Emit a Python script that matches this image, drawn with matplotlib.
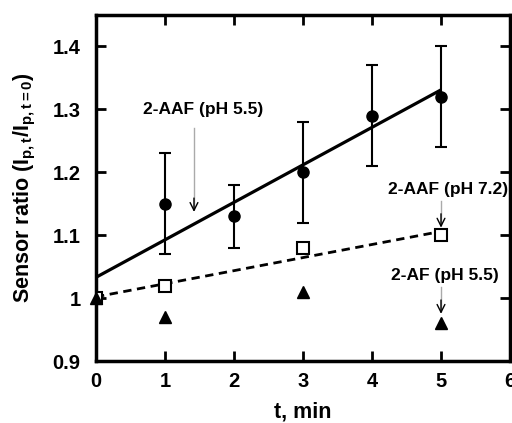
import matplotlib
matplotlib.use("Agg")
import matplotlib.pyplot as plt
import numpy as np

plt.rcParams['font.family'] = ['Liberation Sans', 'DejaVu Sans']
plt.rcParams['font.weight'] = 'bold'
plt.rcParams['mathtext.fontset'] = 'custom'
plt.rcParams['mathtext.rm'] = 'Liberation Sans:bold'
plt.rcParams['mathtext.it'] = 'Liberation Sans:bold'
plt.rcParams['mathtext.bf'] = 'Liberation Sans:bold'

# AAF pH 5.5 (filled circles with error bars)
t_aaf55 = [1, 2, 3, 4, 5]
y_aaf55 = [1.15, 1.13, 1.20, 1.29, 1.32]
err_aaf55 = [0.08, 0.05, 0.08, 0.08, 0.08]
fit_aaf55_t = [0, 5]
fit_aaf55_y = [1.033, 1.331]

# AAF pH 7.2 (open squares)
t_aaf72 = [0, 1, 3, 5]
y_aaf72 = [1.0, 1.02, 1.08, 1.10]
fit_aaf72_t = [0, 5]
fit_aaf72_y = [1.002, 1.106]

# AF pH 5.5 (filled triangles)
t_af55 = [0, 1, 3, 5]
y_af55 = [1.0, 0.97, 1.01, 0.96]

xticks = [0, 1, 2, 3, 4, 5, 6]
yticks = [0.9, 1.0, 1.1, 1.2, 1.3, 1.4]
ytick_labels = ['0.9', '1', '1.1', '1.2', '1.3', '1.4']

fig = plt.figure(figsize=(5.12, 4.23), dpi=100)
ax = fig.add_axes([96/512, 1 - 361/423, (510-96)/512, (361-15)/423])

ax.plot(fit_aaf55_t, fit_aaf55_y, color='black', lw=2.3, solid_capstyle='butt')
ax.plot(fit_aaf72_t, fit_aaf72_y, color='black', lw=2.0, ls=(0, (3, 2)))
ax.errorbar(t_aaf55, y_aaf55, yerr=err_aaf55, fmt='o', color='black', ms=8,
            elinewidth=1.5, capsize=4, capthick=1.5, zorder=5)
ax.plot(t_aaf72, y_aaf72, 's', mfc='white', mec='black', mew=1.5, ms=8, zorder=6)
ax.plot(t_af55, y_af55, '^', color='black', ms=9, zorder=7, clip_on=False)

ax.set_xlim(0, 6)
ax.set_ylim(0.9, 1.45)
ax.set_xticks(xticks)
ax.set_yticks(yticks)
ax.set_yticklabels(ytick_labels)
ax.tick_params(direction='in', length=7, width=2, top=True, right=True,
               labelsize=14.5)
ax.tick_params(axis='y', pad=11)
ax.tick_params(axis='x', pad=8)
for lab in ax.get_xticklabels() + ax.get_yticklabels():
    lab.set_fontweight('bold')
for s in ax.spines.values():
    s.set_linewidth(2.5)

ax.set_xlabel('t, min', fontsize=15.5, fontweight='bold')
ax.xaxis.set_label_coords(0.5, -0.116)
ax.set_ylabel(r'Sensor ratio (I$_{\mathrm{p,t}}$/I$_{\mathrm{p,t=0}}$)', fontsize=15.5,
              fontweight='bold')
ax.yaxis.set_label_coords(-0.14, 0.5)

def arrow(x, y0, y1):
    ax.plot([x, x], [y0, y1 + 0.004], color='#aaaaaa', lw=1.0, zorder=3)
    ax.annotate('', xy=(x, y1), xytext=(x, y1 + 0.022),
                arrowprops=dict(arrowstyle='->', color='black', lw=1.0,
                                shrinkA=0, shrinkB=0, mutation_scale=14),
                zorder=4)

arrow(1.42, 1.27, 1.137)
ax.text(1.55, 1.30, '2-AAF (pH 5.5)', ha='center', va='center', fontsize=12.5,
        fontweight='bold')
arrow(5.0, 1.155, 1.112)
ax.text(5.1, 1.172, '2-AAF (pH 7.2)', ha='center', va='center', fontsize=12.5,
        fontweight='bold')
arrow(5.0, 1.018, 0.975)
ax.text(5.05, 1.036, '2-AF (pH 5.5)', ha='center', va='center', fontsize=12.5,
        fontweight='bold')

fig.savefig('out.png', dpi=100)
